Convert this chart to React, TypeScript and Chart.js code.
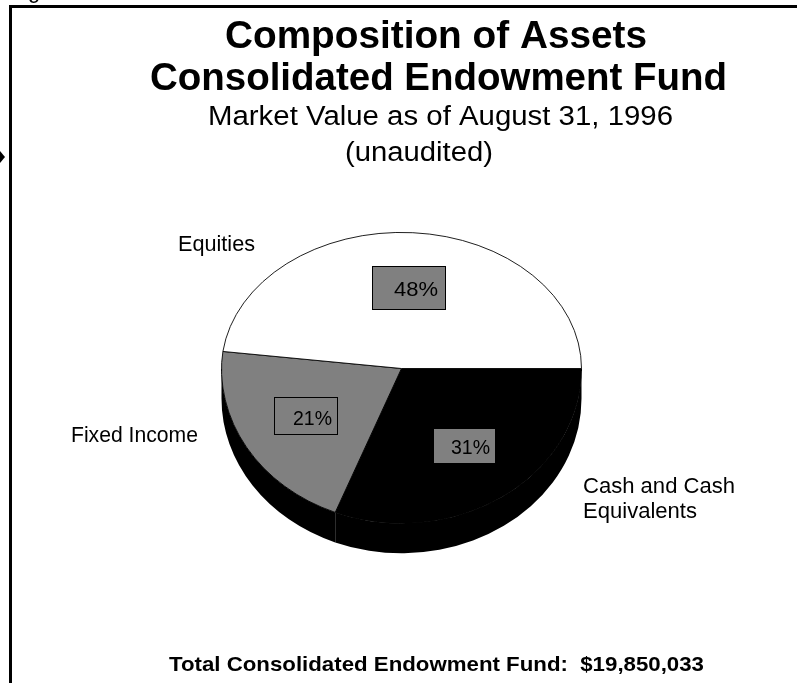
import React, { useEffect, useRef } from "react";
import { Chart, registerables } from "chart.js";

Chart.register(...registerables);

// ---- data ----
const categories = ["Cash and Cash Equivalents", "Fixed Income", "Equities"];
const values = [31, 21, 48];
const sliceColors = ["#000000", "#808080", "#ffffff"];
const titleLines = ["Composition of Assets", "Consolidated Endowment Fund"];
const subtitleLines = ["Market Value as of August 31, 1996", "(unaudited)"];
const footerText = "Total Consolidated Endowment Fund:  $19,850,033";
const outsideLabels = [["Cash and Cash", "Equivalents"], ["Fixed Income"], ["Equities"]];

const FONT = '"Liberation Sans", Arial, Helvetica, sans-serif';
const TILT_TOP = 0.756;
const TILT_BOTTOM = 0.86;
const DEPTH = 30;

function fitText(ctx: CanvasRenderingContext2D, text: string, font: string, x: number, y: number, width?: number) {
  ctx.font = font;
  const m = ctx.measureText(text).width;
  const sx = width ? width / m : 1;
  ctx.save();
  ctx.translate(x, y);
  ctx.scale(sx, 1);
  ctx.textAlign = "left";
  ctx.textBaseline = "alphabetic";
  ctx.fillStyle = "#000";
  ctx.fillText(text, 0, 0);
  ctx.restore();
}

function halfTransform(ctx: CanvasRenderingContext2D, cx: number, cy: number, r: number, upper: boolean) {
  const mid = Math.round(cy);
  ctx.beginPath();
  if (upper) ctx.rect(cx - r - 5, cy - r - 5, 2 * r + 10, mid + 2 - (cy - r - 5));
  else ctx.rect(cx - r - 5, mid, 2 * r + 10, r + 10);
  ctx.clip();
  ctx.translate(cx, cy);
  ctx.scale(1, upper ? TILT_TOP : TILT_BOTTOM);
  ctx.translate(-cx, -cy);
}

const pie3d = {
  id: "pie3d",
  beforeDatasetsDraw(chart: any) {
    const ctx = chart.ctx as CanvasRenderingContext2D;
    const meta = chart.getDatasetMeta(0);
    const a0 = meta.data[0] as any;
    const cx = a0.x, cy = a0.y, r = a0.outerRadius;
    // side walls of the front half
    ctx.save();
    ctx.fillStyle = "#000";
    meta.data.forEach((arc: any) => {
      const s = Math.max(arc.startAngle, 0);
      const e = Math.min(arc.endAngle, Math.PI);
      if (e > s) {
        ctx.beginPath();
        ctx.ellipse(cx, cy, r, r * TILT_BOTTOM, 0, s, e);
        ctx.ellipse(cx, cy + DEPTH, r, r * TILT_BOTTOM, 0, e, s, true);
        ctx.closePath();
        ctx.fill();
      }
    });
    ctx.restore();
    // upper half of the top face (drawn by the controller)
    ctx.save();
    halfTransform(ctx, cx, cy, r, true);
  },
  afterDatasetsDraw(chart: any) {
    const ctx = chart.ctx as CanvasRenderingContext2D;
    ctx.restore();
    const meta = chart.getDatasetMeta(0);
    const a0 = meta.data[0] as any;
    const cx = a0.x, cy = a0.y, r = a0.outerRadius;
    // lower half of the top face (closer to viewer, less foreshortened)
    ctx.save();
    halfTransform(ctx, cx, cy, r, false);
    meta.data.forEach((arc: any) => arc.draw(ctx));
    ctx.restore();
  },
  afterDraw(chart: any) {
    const ctx = chart.ctx as CanvasRenderingContext2D;
    const meta = chart.getDatasetMeta(0);
    const total = values.reduce((a, b) => a + b, 0);
    ctx.save();
    // frame
    ctx.fillStyle = "#000";
    ctx.fillRect(9, 5, 788, 3);
    ctx.fillRect(9, 5, 3, 678);
    ctx.beginPath();
    ctx.moveTo(0, 151);
    ctx.lineTo(5, 157);
    ctx.lineTo(0, 163);
    ctx.closePath();
    ctx.fill();
    fitText(ctx, "g", `22px ${FONT}`, 28, -2);

    // titles
    fitText(ctx, titleLines[0], `bold 38px ${FONT}`, 225, 48, 422);
    fitText(ctx, titleLines[1], `bold 38px ${FONT}`, 150, 90, 577);
    fitText(ctx, subtitleLines[0], `27px ${FONT}`, 208, 125, 465);
    fitText(ctx, subtitleLines[1], `27px ${FONT}`, 345, 161, 148);

    // outside labels
    fitText(ctx, outsideLabels[0][0], `22px ${FONT}`, 583, 493, 152);
    fitText(ctx, outsideLabels[0][1], `22px ${FONT}`, 583, 518, 114);
    fitText(ctx, outsideLabels[1][0], `22px ${FONT}`, 71, 442, 127);
    fitText(ctx, outsideLabels[2][0], `22px ${FONT}`, 178, 251, 77);

    // percentage boxes
    const sizes = [
      [62, 35, 9],
      [63, 37, 9],
      [73, 43, 13],
    ];
    meta.data.forEach((arc: any, i: number) => {
      const mid = (arc.startAngle + arc.endAngle) / 2;
      const sy = Math.sin(mid) < 0 ? TILT_TOP : TILT_BOTTOM;
      const bx = arc.x + Math.cos(mid) * arc.outerRadius * 0.62;
      const by = arc.y + Math.sin(mid) * arc.outerRadius * 0.6 * sy;
      const [w, h, pb] = sizes[i];
      const left = Math.round(bx - w / 2);
      const top = Math.round(by - h / 2);
      ctx.fillStyle = "#808080";
      ctx.fillRect(left, top, w, h);
      ctx.strokeStyle = "#000";
      ctx.lineWidth = 1;
      ctx.strokeRect(left + 0.5, top + 0.5, w, h);
      const txt = Math.round((values[i] / total) * 100) + "%";
      const tw = i === 2 ? 44 : 39;
      fitText(ctx, txt, `20px ${FONT}`, left + w - (i === 2 ? 7 : 5) - tw, top + h - pb, tw);
    });

    // footer
    fitText(ctx, footerText, `bold 21px ${FONT}`, 169, 671, 535);
    ctx.restore();
  },
};

export default function App() {
  const ref = useRef<HTMLCanvasElement>(null);
  useEffect(() => {
    document.body.style.margin = "0";
    const canvas = ref.current!;
    const chart = new Chart(canvas, {
      type: "pie",
      data: {
        labels: categories,
        datasets: [
          {
            data: values,
            backgroundColor: sliceColors,
            borderColor: "#000",
            borderWidth: 1,
          },
        ],
      },
      options: {
        animation: false,
        responsive: false,
        devicePixelRatio: 1,
        rotation: 90,
        layout: { padding: { left: 221, right: 215, top: 188, bottom: 134 } },
        plugins: { legend: { display: false }, tooltip: { enabled: false }, title: { display: false } },
        events: [],
      },
      plugins: [pie3d],
    });
    return () => chart.destroy();
  }, []);
  return (
    <div style={{ width: 797, height: 683, background: "#fff" }}>
      <canvas ref={ref} width={797} height={683} style={{ display: "block" }} />
    </div>
  );
}
